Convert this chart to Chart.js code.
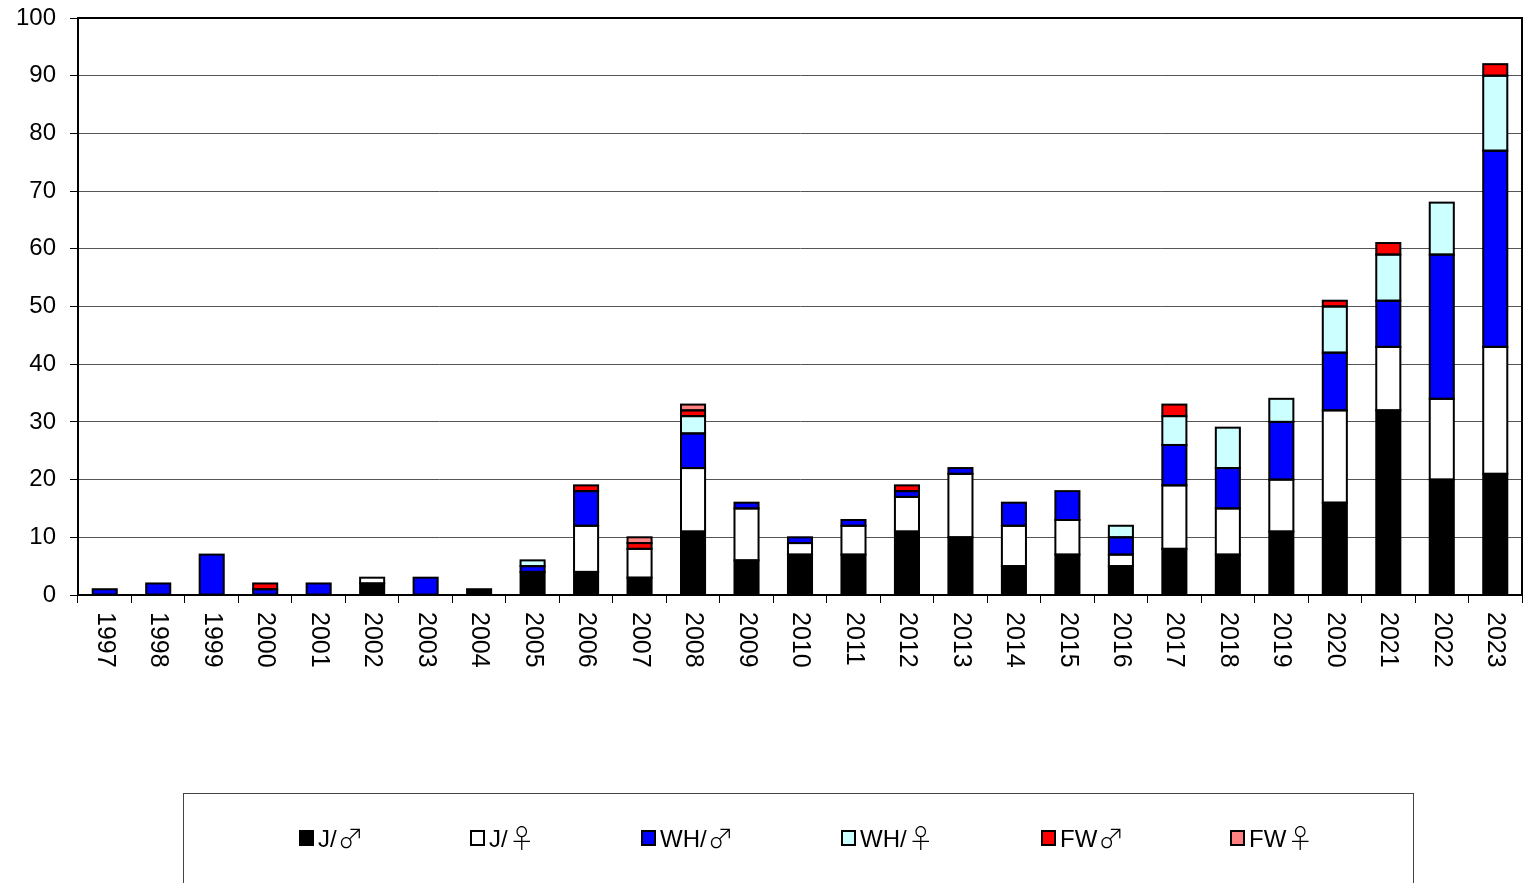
<!DOCTYPE html>
<html>
<head>
<meta charset="utf-8">
<script src="https://cdn.jsdelivr.net/npm/chart.js@4"></script>
<style>
  html, body { margin: 0; padding: 0; background: #fff; }
  #wrap { width: 1533px; height: 883px; }
</style>
</head>
<body>
<div id="wrap"><canvas id="chart" width="1533" height="883"></canvas></div>
<script>
'use strict';

const years = ['1997', '1998', '1999', '2000', '2001', '2002', '2003', '2004', '2005', '2006',
    '2007', '2008', '2009', '2010', '2011', '2012', '2013', '2014', '2015', '2016',
    '2017', '2018', '2019', '2020', '2021', '2022', '2023'];

const jMale    = [0, 0, 0, 0, 0, 2, 0, 1, 4, 4, 3, 11, 6, 7, 7, 11, 10, 5, 7, 5, 8, 7, 11, 16, 32, 20, 21];
const jFemale  = [0, 0, 0, 0, 0, 1, 0, 0, 0, 8, 5, 11, 9, 2, 5, 6, 11, 7, 6, 2, 11, 8, 9, 16, 11, 14, 22];
const whMale   = [1, 2, 7, 1, 2, 0, 3, 0, 1, 6, 0, 6, 1, 1, 1, 1, 1, 4, 5, 3, 7, 7, 10, 10, 8, 25, 34];
const whFemale = [0, 0, 0, 0, 0, 0, 0, 0, 1, 0, 0, 3, 0, 0, 0, 0, 0, 0, 0, 2, 5, 7, 4, 8, 8, 9, 13];
const fwMale   = [0, 0, 0, 1, 0, 0, 0, 0, 0, 1, 1, 1, 0, 0, 0, 1, 0, 0, 0, 0, 2, 0, 0, 1, 2, 0, 2];
const fwFemale = [0, 0, 0, 0, 0, 0, 0, 0, 0, 0, 1, 1, 0, 0, 0, 0, 0, 0, 0, 0, 0, 0, 0, 0, 0, 0, 0];

const seriesLabels = ['J/♂', 'J/♀', 'WH/♂', 'WH/♀', 'FW♂', 'FW♀'];
const seriesColors = ['#000000', '#ffffff', '#0000ff', '#ccffff', '#ff0000', '#ff8080'];
const seriesValues = [jMale, jFemale, whMale, whFemale, fwMale, fwFemale];

const FONT = '"Liberation Sans", Arial, "DejaVu Sans", sans-serif';
const SYMBOL_FONT = '"Noto Sans CJK JP", "DejaVu Sans", sans-serif';

// zero segments are left out so they draw nothing
const datasets = seriesValues.map((vals, i) => ({
    label: seriesLabels[i],
    data: vals.map(v => v === 0 ? null : v),
    backgroundColor: seriesColors[i],
    borderWidth: 0,
    barPercentage: 0.45,
    categoryPercentage: 1
}));

// outline each segment like a spreadsheet chart, border centred on the edge
const outlinePlugin = {
    id: 'outline',
    afterDatasetsDraw(chart) {
        const ctx = chart.ctx;
        ctx.save();
        ctx.strokeStyle = '#000';
        ctx.lineWidth = 2;
        chart.data.datasets.forEach((ds, di) => {
            chart.getDatasetMeta(di).data.forEach((bar, i) => {
                if (ds.data[i] == null) return;
                const p = bar.getProps(['x', 'y', 'base', 'width'], true);
                ctx.strokeRect(p.x - p.width / 2, p.y, p.width, p.base - p.y);
            });
        });
        ctx.restore();
    }
};

const framePlugin = {
    id: 'frame',
    afterDraw(chart) {
        const ctx = chart.ctx;
        const a = chart.chartArea;
        const x = chart.scales.x;
        ctx.save();
        // top and right border
        ctx.strokeStyle = '#000';
        ctx.lineWidth = 2;
        ctx.beginPath();
        ctx.moveTo(a.left, a.top);
        ctx.lineTo(a.right, a.top);
        ctx.lineTo(a.right, a.bottom);
        ctx.stroke();

        // year labels, turned clockwise
        ctx.fillStyle = '#000';
        ctx.font = '25px ' + FONT;
        ctx.textAlign = 'left';
        ctx.textBaseline = 'middle';
        chart.data.labels.forEach((lab, i) => {
            ctx.save();
            ctx.translate(x.getPixelForTick(i), a.bottom + 17);
            ctx.rotate(Math.PI / 2);
            ctx.fillText(lab, 0, 0);
            ctx.restore();
        });

        // legend box
        ctx.strokeStyle = '#444';
        ctx.lineWidth = 1;
        ctx.strokeRect(183.5, 793.5, 1230, 120);
        const itemX = [300, 471, 642, 842, 1042, 1231];
        const cy = 838;
        chart.data.datasets.forEach((ds, i) => {
            const bx = itemX[i];
            ctx.fillStyle = ds.backgroundColor;
            ctx.fillRect(bx, cy - 7, 13, 14);
            ctx.strokeStyle = '#000';
            ctx.lineWidth = 2;
            ctx.strokeRect(bx, cy - 7, 13, 14);
            // text part and gender sign drawn separately so the sign can be larger
            const txt = ds.label.slice(0, -1);
            const sign = ds.label.slice(-1);
            ctx.fillStyle = '#000';
            ctx.textBaseline = 'alphabetic';
            ctx.font = '24px ' + FONT;
            ctx.fillText(txt, bx + 18, cy + 9);
            const w = ctx.measureText(txt).width;
            ctx.font = '300 26px ' + SYMBOL_FONT;
            ctx.fillText(sign, bx + 18 + w + 1, cy + 10);
        });
        ctx.restore();
    }
};

new Chart(document.getElementById('chart'), {
    type: 'bar',
    data: { labels: years, datasets: datasets },
    plugins: [outlinePlugin, framePlugin],
    options: {
        responsive: false,
        animation: false,
        layout: { padding: { top: 18, right: 11, bottom: 0, left: 0 } },
        plugins: {
            legend: { display: false },
            tooltip: { enabled: false }
        },
        scales: {
            x: {
                stacked: true,
                offset: true,
                grid: {
                    display: true,
                    drawOnChartArea: false,
                    drawTicks: true,
                    tickLength: 8,
                    tickColor: '#000',
                    offset: true
                },
                border: { display: true, color: '#000', width: 2 },
                ticks: { display: false },
                afterFit(scale) { scale.height = 288; }
            },
            y: {
                stacked: true,
                min: 0,
                max: 100,
                ticks: {
                    stepSize: 10,
                    color: '#000',
                    padding: 14,
                    font: { size: 24, family: FONT }
                },
                grid: {
                    color: '#555',
                    lineWidth: 1,
                    tickLength: 8,
                    tickColor: '#000'
                },
                border: { display: true, color: '#000', width: 2 },
                afterFit(scale) {
                    scale.width = 78;
                    scale.paddingTop = 0;
                    scale.paddingBottom = 0;
                }
            }
        }
    }
});
</script>
</body>
</html>
